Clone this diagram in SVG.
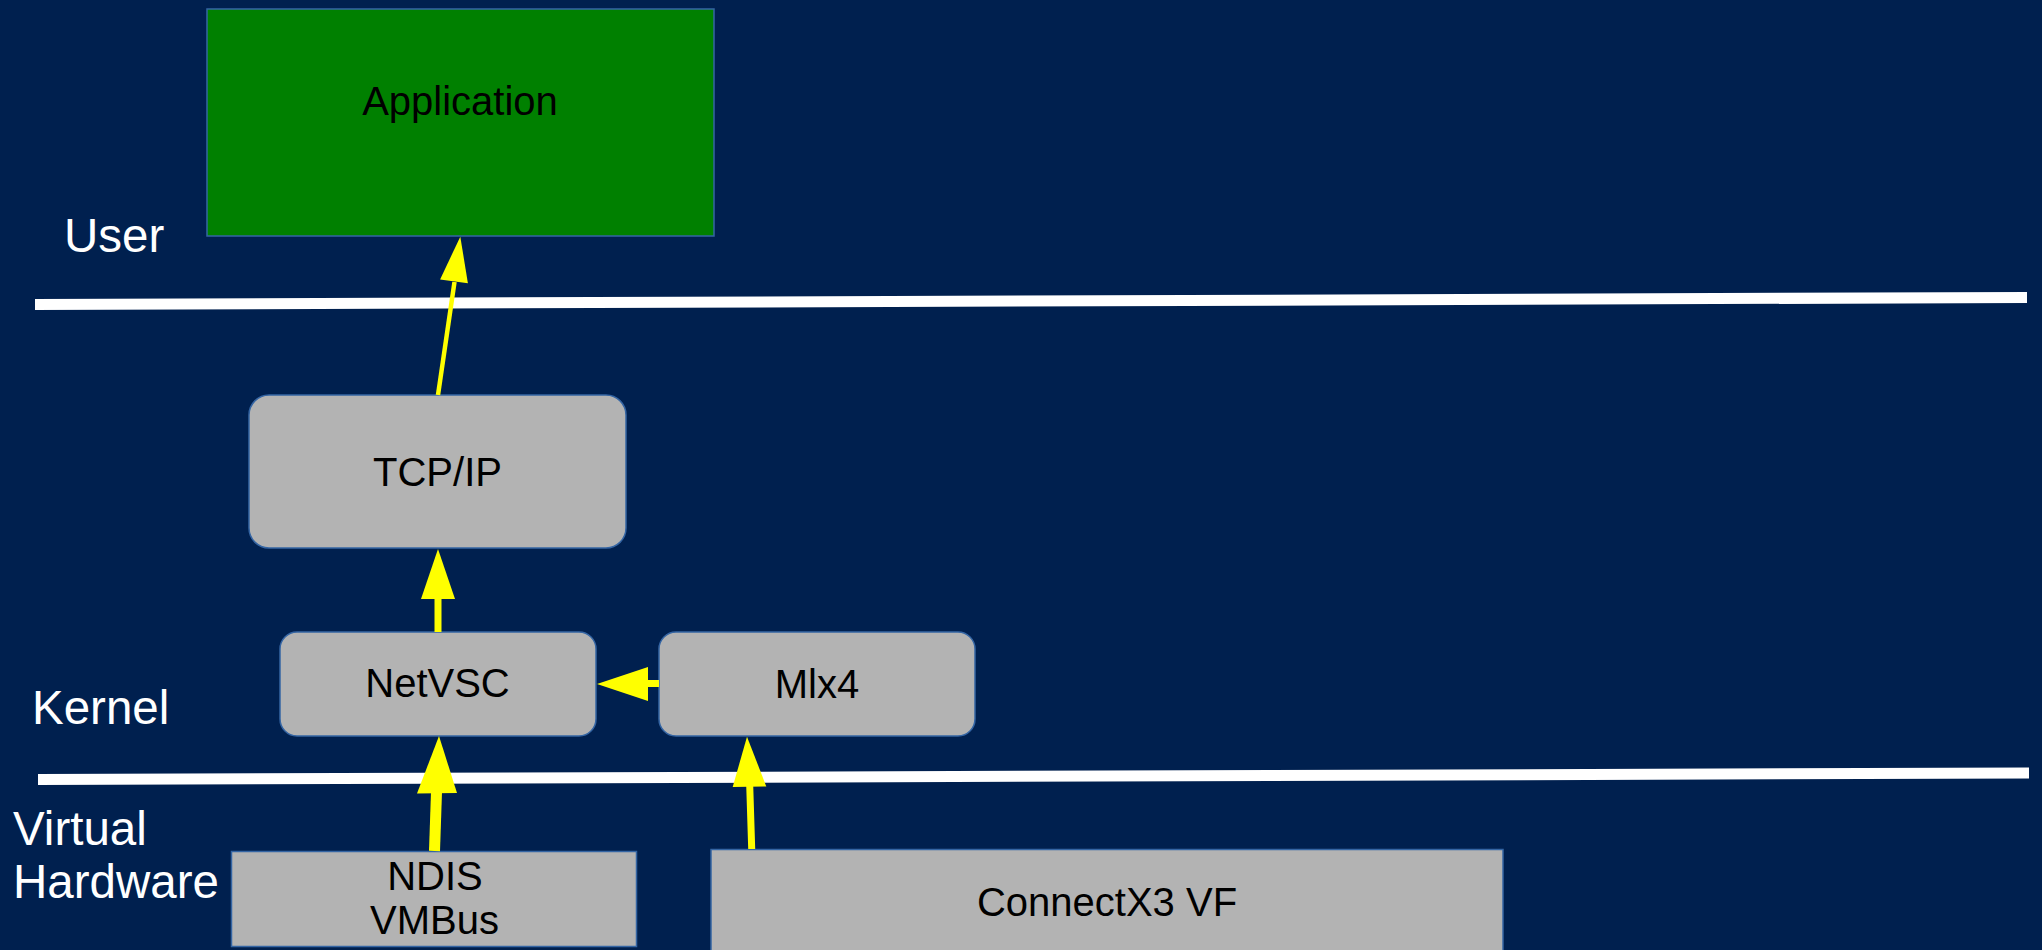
<svg xmlns="http://www.w3.org/2000/svg" width="2042" height="950" viewBox="0 0 2042 950">
  <style>
    .box { fill: #b3b3b3; stroke: #3465a4; stroke-width: 1.5; }
    .app { fill: #008000; stroke: #3465a4; stroke-width: 1.5; }
    .lbl { font-family: "Liberation Sans", Arial, sans-serif; font-size: 40px; fill: #000000; text-anchor: middle; }
    .layer { font-family: "Liberation Sans", Arial, sans-serif; font-size: 47.5px; fill: #ffffff; }
    .sep { stroke: #ffffff; stroke-width: 11; fill: none; }
    .shaft { stroke: #ffff00; fill: none; }
    .head { fill: #ffff00; stroke: none; }
  </style>
  <rect x="0" y="0" width="2042" height="950" fill="#00204f"/>

  <g id="separators">
    <line class="sep" x1="35" y1="304.5" x2="2027" y2="297.5"/>
    <line class="sep" x1="38" y1="779.5" x2="2029" y2="773"/>
  </g>

  <g id="layer-labels">
    <text class="layer" x="64" y="252">User</text>
    <text class="layer" x="32" y="724">Kernel</text>
    <text class="layer" x="13" y="845">Virtual</text>
    <text class="layer" x="13" y="898">Hardware</text>
  </g>

  <g id="application">
    <rect class="app" x="207" y="9" width="507" height="227"/>
    <text class="lbl" x="460" y="115">Application</text>
  </g>

  <g id="tcpip">
    <rect class="box" x="249" y="395" width="377" height="153" rx="20" ry="20"/>
    <text class="lbl" x="437.5" y="486">TCP/IP</text>
  </g>

  <g id="netvsc">
    <rect class="box" x="280" y="632" width="316" height="104" rx="17" ry="17"/>
    <text class="lbl" x="437.5" y="697">NetVSC</text>
  </g>

  <g id="mlx4">
    <rect class="box" x="659" y="632" width="316" height="104" rx="17" ry="17"/>
    <text class="lbl" x="817" y="697.5">Mlx4</text>
  </g>

  <g id="ndis-vmbus">
    <rect class="box" x="231.5" y="851.5" width="405" height="95"/>
    <text class="lbl" x="435" y="890">NDIS</text>
    <text class="lbl" x="434.5" y="934">VMBus</text>
  </g>

  <g id="connectx3-vf">
    <rect class="box" x="711" y="849.5" width="792" height="110"/>
    <text class="lbl" x="1107" y="915.5">ConnectX3 VF</text>
  </g>

  <g id="connectors">
    <line class="shaft" stroke-width="4.5" x1="438" y1="395" x2="454.5" y2="282"/>
    <polygon class="head" points="460.3,236.7 467.9,283.2 440.1,279.4"/>

    <line class="shaft" stroke-width="7" x1="438" y1="632" x2="438" y2="598"/>
    <polygon class="head" points="438,549 455,599 421,599"/>

    <line class="shaft" stroke-width="7" x1="659" y1="683.5" x2="647" y2="683.5"/>
    <polygon class="head" points="597,684 648,667 648,701"/>

    <line class="shaft" stroke-width="7" x1="751.7" y1="849" x2="749.7" y2="785"/>
    <polygon class="head" points="747,736.7 766.3,786.5 732.7,787"/>

    <line class="shaft" stroke-width="11" x1="434.5" y1="851" x2="436.5" y2="792"/>
    <polygon class="head" points="439,736 457,793 417,793.5"/>
  </g>
</svg>
